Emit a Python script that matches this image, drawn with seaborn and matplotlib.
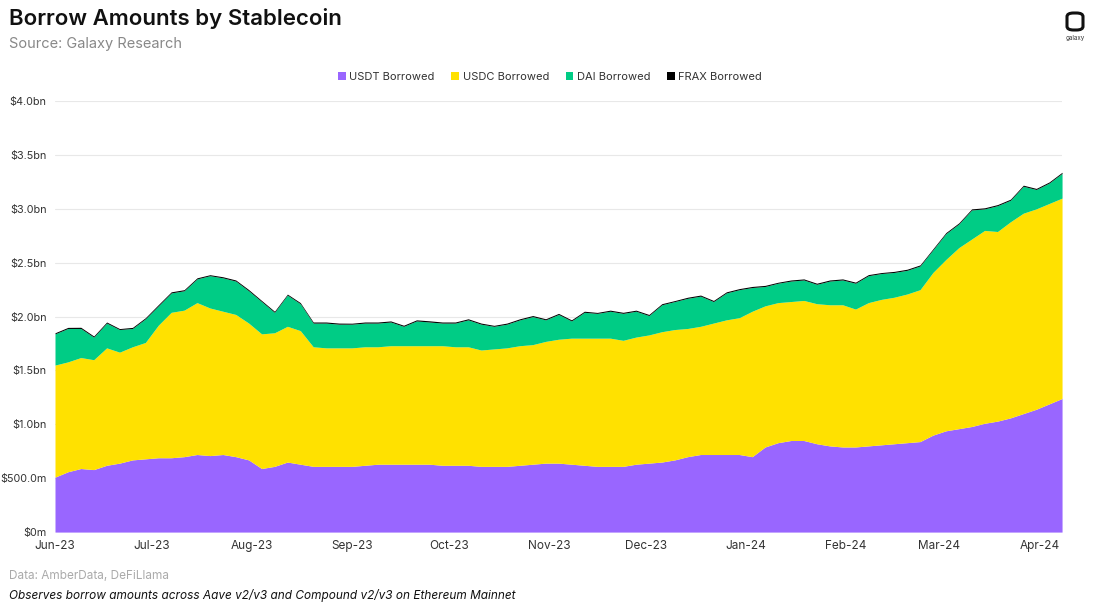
import matplotlib
matplotlib.use("Agg")
import matplotlib.pyplot as plt
import matplotlib.dates as mdates
from matplotlib.patches import FancyBboxPatch, Patch
import seaborn as sns
import pandas as pd
import numpy as np

# ---- data (billions USD), sampled every 4 days from 2023-06-01 ----
dates = pd.date_range("2023-06-01", periods=79, freq="4D")

usdt = [0.51, 0.56, 0.59, 0.58, 0.62, 0.64, 0.67, 0.68, 0.69, 0.69,
        0.70, 0.72, 0.71, 0.72, 0.70, 0.67, 0.59, 0.61, 0.65, 0.63,
        0.61, 0.61, 0.61, 0.61, 0.62, 0.63, 0.63, 0.63, 0.63, 0.63,
        0.62, 0.62, 0.62, 0.61, 0.61, 0.61, 0.62, 0.63, 0.64, 0.64,
        0.63, 0.62, 0.61, 0.61, 0.61, 0.63, 0.64, 0.65, 0.67, 0.70,
        0.72, 0.72, 0.72, 0.72, 0.70, 0.79, 0.83, 0.85, 0.85, 0.82,
        0.80, 0.79, 0.79, 0.80, 0.81, 0.82, 0.83, 0.84, 0.90, 0.94,
        0.96, 0.98, 1.01, 1.03, 1.06, 1.10, 1.14, 1.19, 1.24]

usdc = [1.04, 1.02, 1.03, 1.02, 1.09, 1.03, 1.05, 1.08, 1.23, 1.35,
        1.36, 1.41, 1.37, 1.33, 1.32, 1.27, 1.25, 1.24, 1.26, 1.24,
        1.11, 1.10, 1.10, 1.10, 1.10, 1.09, 1.10, 1.10, 1.10, 1.10,
        1.11, 1.10, 1.10, 1.08, 1.09, 1.10, 1.11, 1.11, 1.13, 1.15,
        1.17, 1.18, 1.19, 1.19, 1.17, 1.18, 1.19, 1.21, 1.21, 1.19,
        1.19, 1.22, 1.25, 1.27, 1.35, 1.31, 1.30, 1.29, 1.30, 1.30,
        1.31, 1.32, 1.28, 1.33, 1.35, 1.36, 1.38, 1.41, 1.51, 1.59,
        1.68, 1.74, 1.79, 1.76, 1.82, 1.86, 1.86, 1.86, 1.86]

dai = [0.29, 0.31, 0.27, 0.21, 0.23, 0.21, 0.17, 0.22, 0.18, 0.18,
       0.18, 0.22, 0.30, 0.31, 0.31, 0.30, 0.30, 0.19, 0.29, 0.25,
       0.22, 0.23, 0.22, 0.22, 0.22, 0.22, 0.22, 0.18, 0.23, 0.22,
       0.21, 0.22, 0.25, 0.24, 0.21, 0.22, 0.24, 0.26, 0.20, 0.23,
       0.16, 0.24, 0.23, 0.25, 0.25, 0.24, 0.18, 0.25, 0.26, 0.28,
       0.28, 0.20, 0.25, 0.26, 0.22, 0.18, 0.18, 0.19, 0.19, 0.18,
       0.22, 0.23, 0.24, 0.25, 0.24, 0.23, 0.22, 0.22, 0.21, 0.24,
       0.22, 0.27, 0.20, 0.24, 0.20, 0.25, 0.18, 0.19, 0.23]

frax = [0.010, 0.010, 0.011, 0.010, 0.010, 0.009, 0.010, 0.010, 0.011, 0.010,
        0.010, 0.010, 0.009, 0.010, 0.010, 0.011, 0.010, 0.010, 0.009, 0.010,
        0.010, 0.010, 0.010, 0.009, 0.010, 0.010, 0.010, 0.010, 0.010, 0.011,
        0.010, 0.010, 0.010, 0.010, 0.009, 0.010, 0.010, 0.010, 0.010, 0.010,
        0.010, 0.010, 0.009, 0.010, 0.010, 0.010, 0.010, 0.010, 0.009, 0.010,
        0.010, 0.010, 0.010, 0.010, 0.010, 0.010, 0.009, 0.010, 0.010, 0.010,
        0.010, 0.010, 0.010, 0.010, 0.009, 0.010, 0.010, 0.010, 0.010, 0.010,
        0.010, 0.010, 0.010, 0.010, 0.010, 0.010, 0.010, 0.010, 0.010]

series_names = ["USDT Borrowed", "USDC Borrowed", "DAI Borrowed", "FRAX Borrowed"]
colors = ["#9966FF", "#FFE100", "#00CC85", "#000000"]

y_ticks = [0, 0.5, 1.0, 1.5, 2.0, 2.5, 3.0, 3.5, 4.0]
y_labels = ["$0m", "$500.0m", "$1.0bn", "$1.5bn", "$2.0bn", "$2.5bn", "$3.0bn", "$3.5bn", "$4.0bn"]

# ---- figure ----
sns.set_theme(style="white")
plt.rcParams["font.family"] = ["Inter", "DejaVu Sans"]

fig = plt.figure(figsize=(11, 6.13), dpi=100)
ax = fig.add_axes([0.05, 0.132, 0.9155, 0.703])

ax.stackplot(dates, usdt, usdc, dai, frax, colors=colors, linewidth=0)

ax.set_ylim(0, 4.0)
ax.set_xlim(dates[0], dates[-1])
ax.set_yticks(y_ticks)
ax.set_yticklabels(y_labels)
ax.yaxis.grid(True, color="#e8e8e8", linewidth=0.8)
ax.set_axisbelow(True)
ax.xaxis.set_major_locator(mdates.MonthLocator())
ax.xaxis.set_major_formatter(mdates.DateFormatter("%b-%y"))
ax.tick_params(axis="x", labelsize=8.5, colors="#333333", length=0, pad=6)
ax.tick_params(axis="y", labelsize=7.8, colors="#333333", length=0, pad=6)
for s in ax.spines.values():
    s.set_visible(False)

# legend
handles = [Patch(facecolor=c, edgecolor="none") for c in colors]
fig.legend(handles, series_names, loc="center", bbox_to_anchor=(0.5, 0.875),
           ncol=4, frameon=False, fontsize=8, handlelength=0.7, handleheight=0.7,
           columnspacing=1.5, handletextpad=0.3, labelcolor="#333333")

# titles
fig.text(0.008, 0.970, "Borrow Amounts by Stablecoin", fontsize=16, fontweight="semibold",
         color="#111111", va="center", ha="left")
fig.text(0.008, 0.929, "Source: Galaxy Research", fontsize=10.5, color="#888888",
         va="center", ha="left")

# footer
fig.text(0.008, 0.061, "Data: AmberData, DeFiLlama", fontsize=8.5, color="#aaaaaa",
         va="center", ha="left")
fig.text(0.008, 0.029, "Observes borrow amounts across Aave v2/v3 and Compound v2/v3 on Ethereum Mainnet",
         fontsize=8.5, color="#111111", style="italic", va="center", ha="left")

# logo
logo = FancyBboxPatch((1067 / 1100, 1 - 30 / 613), 16 / 1100, 17 / 613,
                      boxstyle="round,pad=0,rounding_size=0.006",
                      transform=fig.transFigure, facecolor="none",
                      edgecolor="#111111", linewidth=2.2)
fig.patches.append(logo)
fig.text(1075 / 1100, 1 - 38 / 613, "galaxy", fontsize=4.5, color="#333333",
         ha="center", va="center")

fig.savefig("out.png", dpi=100, facecolor="white")
